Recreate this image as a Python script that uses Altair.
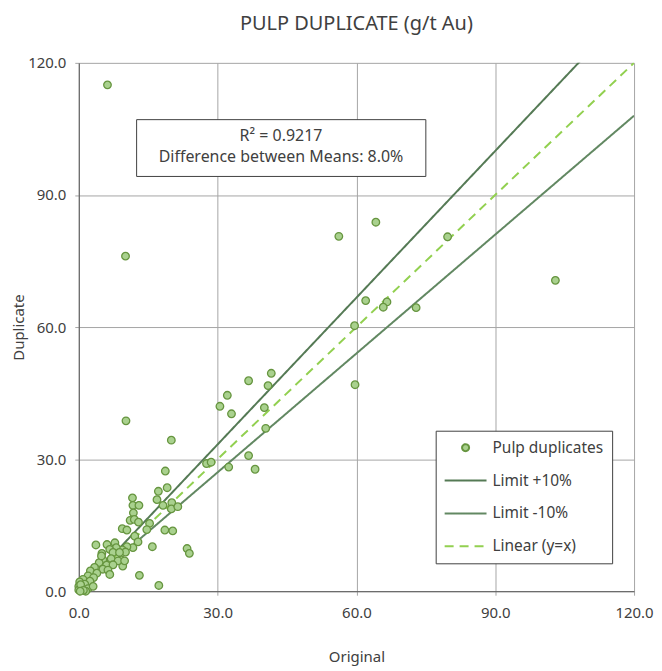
import altair as alt
import pandas as pd

# ---- data ----
original = [6.2, 10.1, 10.2, 56.2, 64.2, 79.7, 103.0, 62.0, 66.6, 65.8, 72.9, 59.6, 59.7,
            41.6, 36.7, 40.9, 32.1, 30.5, 33.0, 40.1, 40.4, 36.7, 27.6, 28.6, 32.4, 38.1,
            20.0, 18.7, 17.2, 19.1, 16.9, 11.6, 11.7, 13.0, 18.2, 20.1, 20.0, 21.4, 11.8,
            11.1, 12.0, 12.9, 15.3, 14.7, 9.4, 10.4, 18.6, 20.3, 12.1, 12.8, 11.7, 10.4,
            15.9, 9.4, 23.4, 23.9, 10.1, 9.2, 9.5, 13.1, 17.3,
            3.7, 6.1, 7.8, 8.1, 6.7, 5.0, 7.4, 8.8, 5.2, 7.0, 8.5, 9.9, 4.4, 6.0, 7.4,
            3.4, 5.2, 6.3, 2.5, 3.9, 2.0, 3.2, 6.7, 0.9, 2.4, 0.2, 1.3, 0.0, 0.6, 0.0,
            2.0, 1.5, 3.1, 4.9, 0.4, 1.0, 0.3]
duplicate = [115.0, 76.1, 38.7, 80.6, 83.8, 80.5, 70.6, 66.0, 65.7, 64.5, 64.4, 60.3, 46.9,
             49.5, 47.8, 46.7, 44.5, 42.0, 40.3, 41.7, 37.0, 30.8, 29.0, 29.3, 28.2, 27.7,
             34.3, 27.3, 22.7, 23.5, 20.8, 21.2, 19.5, 19.5, 19.5, 20.1, 18.7, 19.2, 17.8,
             16.1, 16.3, 15.7, 15.4, 14.0, 14.2, 13.9, 13.9, 13.7, 12.5, 11.2, 9.9, 10.1,
             10.1, 9.4, 9.7, 8.6, 8.9, 7.1, 5.7, 3.6, 1.3,
             10.5, 10.6, 11.0, 9.9, 9.5, 8.6, 8.8, 8.8, 7.2, 7.4, 6.9, 6.9, 6.5, 5.9, 6.0,
             5.4, 5.0, 4.8, 4.6, 4.1, 3.5, 3.1, 3.8, 2.7, 2.3, 2.1, 1.6, 1.1, 0.5, 0.3,
             0.6, 0.0, 1.1, 8.0, 1.5, 0.2, 0.0]

series_names = ["Pulp duplicates", "Limit +10%", "Limit -10%", "Linear (y=x)"]
line_names = ["Limit +10%", "Limit -10%", "Linear (y=x)"]
line_slopes = [1 / 0.9, 0.9, 1.0]
axis_ticks = [0, 30, 60, 90, 120]
stats_lines = ["R\u00b2 = 0.9217", "Difference between Means: 8.0%"]

# ---- tables ----
pts = pd.DataFrame({"x": original, "y": duplicate, "series": "Pulp duplicates"})
rows = []
for name, s in zip(line_names, line_slopes):
    for xv in (0.0, 120.0):
        rows.append({"x": xv, "y": s * xv, "series": name})
lines = pd.DataFrame(rows)
box = pd.DataFrame({"x": [12.5], "x2": [75.0], "y": [107.1], "y2": [94.2]})
txt = pd.DataFrame({"x": [43.7, 43.7], "y": [103.4, 98.6], "t": stats_lines})

FONT = "Noto Sans"
TXT = "#404040"

circle_path = "M-0.4375,0A0.4375,0.4375 0 1,0 0.4375,0A0.4375,0.4375 0 1,0 -0.4375,0Z"
line_path = "M-2.625,0H2.625"

legend = alt.Legend(title=None, orient="none", legendX=358, legendY=369,
                    strokeColor="#404040", fillColor="white", padding=8,
                    symbolSize=256, symbolOffset=13, labelOffset=18, rowPadding=15,
                    labelFontSize=15.5, labelFont=FONT, labelColor=TXT,
                    symbolStrokeWidth=2, symbolFillColor="transparent",
                    symbolStrokeColor="#5a7d5a", symbolOpacity=1)

fill_scale = alt.Scale(domain=series_names,
                       range=["#a9d18e", "transparent", "transparent", "transparent"])
stroke_scale = alt.Scale(domain=series_names,
                         range=["#66953f", "#557a55", "#628862", "#92d050"])
shape_scale = alt.Scale(domain=series_names,
                        range=[circle_path, line_path, line_path, line_path])
dash_scale = alt.Scale(domain=series_names,
                       range=[[1, 0], [1, 0], [1, 0], [9, 6]])

xenc = alt.X("x:Q", scale=alt.Scale(domain=[0, 120], nice=False),
             axis=alt.Axis(values=axis_ticks, format=".1f", title="Original",
                           grid=True, gridColor="#a6a6a6", domainColor="#595959",
                           tickColor="#a6a6a6", tickSize=4, labelPadding=10,
                           labelFlush=False, labelFontSize=15, labelFont=FONT,
                           labelColor=TXT, titleFont=FONT, titleFontSize=15,
                           titleFontWeight="normal", titleColor=TXT, titlePadding=30))
yenc = alt.Y("y:Q", scale=alt.Scale(domain=[0, 120], nice=False),
             axis=alt.Axis(values=axis_ticks, format=".1f", title="Duplicate",
                           grid=True, gridColor="#a6a6a6", domainColor="#595959",
                           tickColor="#a6a6a6", tickSize=4, labelPadding=9,
                           labelFlush=False, labelFontSize=15, labelFont=FONT,
                           labelColor=TXT, titleFont=FONT, titleFontSize=15,
                           titleFontWeight="normal", titleColor=TXT, titlePadding=1))

line_layer = alt.Chart(lines).mark_line(strokeWidth=2, clip=True).encode(
    x=xenc, y=yenc,
    stroke=alt.Stroke("series:N", scale=stroke_scale, legend=legend),
    strokeDash=alt.StrokeDash("series:N", scale=dash_scale, legend=legend),
    detail="series:N",
)

point_layer = alt.Chart(pts).mark_point(opacity=1, strokeWidth=1.3).encode(
    x="x:Q", y="y:Q",
    fill=alt.Fill("series:N", scale=fill_scale, legend=legend),
    stroke=alt.Stroke("series:N", scale=stroke_scale, legend=legend),
    shape=alt.Shape("series:N", scale=shape_scale, legend=legend),
    size=alt.value(300),
)

box_layer = alt.Chart(box).mark_rect(fill="white", stroke="#404040", strokeWidth=1).encode(
    x="x:Q", x2="x2:Q", y="y:Q", y2="y2:Q")

text_layer = alt.Chart(txt).mark_text(font=FONT, fontSize=16, color=TXT, align="center",
                                       baseline="middle").encode(
    x="x:Q", y="y:Q", text="t:N")

chart = alt.layer(line_layer, point_layer, box_layer, text_layer).properties(
    width=557, height=530,
    autosize=alt.AutoSizeParams(type="none"),
    padding={"left": 71, "top": 54, "right": 20, "bottom": 76},
    title=alt.TitleParams("PULP DUPLICATE (g/t Au)", font=FONT, fontSize=20,
                          fontWeight="normal", color=TXT, anchor="middle", offset=22),
).configure_view(stroke=None)

chart.save("out.html", embed_options={"renderer": "svg", "actions": False})
